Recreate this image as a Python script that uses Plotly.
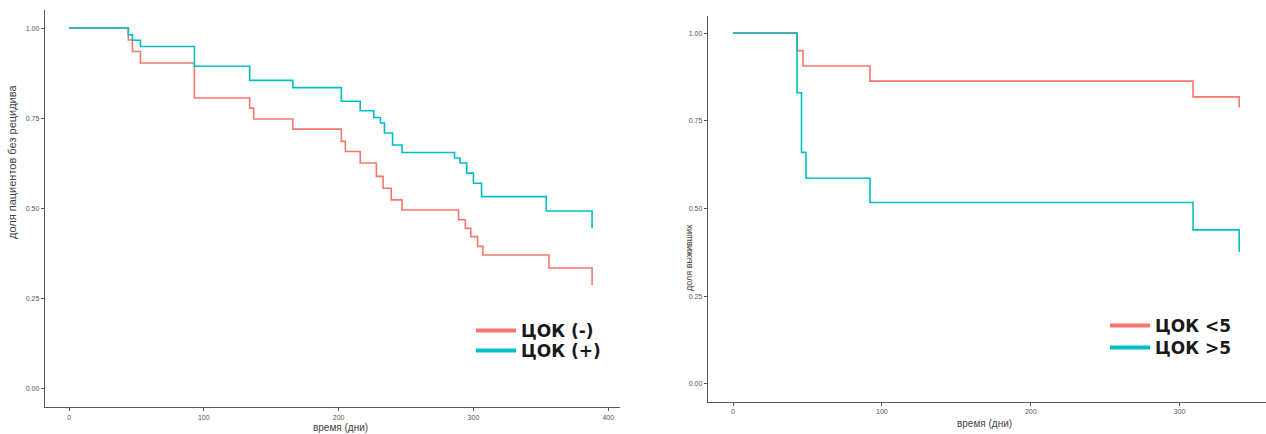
import plotly.graph_objects as go

# Kaplan-Meier estimates, left panel: relapse-free share by CTC status
t_neg = [0, 44, 47, 53, 93, 134, 137, 166, 202, 205, 216, 228, 233, 239, 247,
         289, 294, 298, 303, 307, 356, 388]
s_neg = [1.0, 0.967, 0.935, 0.903, 0.806, 0.778, 0.748, 0.720, 0.686, 0.658, 0.626,
         0.589, 0.556, 0.524, 0.496, 0.469, 0.445, 0.422, 0.395, 0.371, 0.335, 0.288]

t_pos = [0, 44, 47, 53, 93, 134, 166, 202, 216, 226, 231, 234, 240, 247,
         286, 290, 295, 300, 306, 354, 388]
s_pos = [1.0, 0.981, 0.966, 0.949, 0.894, 0.855, 0.835, 0.797, 0.771, 0.752, 0.737,
         0.709, 0.676, 0.655, 0.640, 0.626, 0.598, 0.570, 0.533, 0.493, 0.445]

# Right panel: survival share by CTC count
t_lt5 = [0, 43, 47, 92, 309, 340]
s_lt5 = [1.0, 0.950, 0.906, 0.863, 0.818, 0.788]

t_gt5 = [0, 43, 46, 49, 92, 309, 340]
s_gt5 = [1.0, 0.830, 0.660, 0.586, 0.517, 0.439, 0.377]

y_ticks = [0.0, 0.25, 0.5, 0.75, 1.0]
x_ticks_left = [0, 100, 200, 300, 400]
x_ticks_right = [0, 100, 200, 300]

RED = "#F8766D"
TEAL = "#00BFC4"
AXIS = "#5a5a5a"
W, H = 1266, 434

fig = go.Figure()

def km(x, y, color, xa, ya):
    fig.add_trace(go.Scatter(x=x, y=y, mode="lines", line=dict(color=color, width=1.6, shape="hv"),
                             xaxis=xa, yaxis=ya, showlegend=False, hoverinfo="skip"))

def key(name, color, legend):
    fig.add_trace(go.Scatter(x=[None], y=[None], mode="lines", name=name,
                             line=dict(color=color, width=4), legend=legend))

km(t_neg, s_neg, RED, "x", "y")
km(t_pos, s_pos, TEAL, "x", "y")
km(t_lt5, s_lt5, RED, "x2", "y2")
km(t_gt5, s_gt5, TEAL, "x2", "y2")

# one single-entry legend per key so each row sits exactly where wanted
key("ЦОК (-)", RED, "legend")
key("ЦОК (+)", TEAL, "legend2")
key("ЦОК <5", RED, "legend3")
key("ЦОК >5", TEAL, "legend4")

tickfont = dict(family="Liberation Sans, Arial", size=7, color="#555")
axis_common = dict(showline=True, linecolor=AXIS, linewidth=1.4, ticks="outside", ticklen=3,
                   tickcolor=AXIS, tickwidth=1, showgrid=False, zeroline=False,
                   tickfont=tickfont, fixedrange=True)


def legend_box(x_px, y_px, size):
    return dict(x=x_px / W, y=(H - y_px) / H, xanchor="left", yanchor="middle",
                bgcolor="rgba(0,0,0,0)", itemwidth=40,
                font=dict(family="DejaVu Sans", size=size, color="#1a1a1a", weight="bold"))


fig.update_layout(
    width=W, height=H, margin=dict(l=0, r=0, t=0, b=0),
    paper_bgcolor="white", plot_bgcolor="white",
    xaxis=dict(domain=[45 / W, 620 / W], range=[-17.8, 408.7], tickvals=x_ticks_left,
               anchor="y", **axis_common),
    yaxis=dict(domain=[(H - 407) / H, (H - 10) / H], range=[-0.05, 1.05], tickvals=y_ticks,
               tickformat=".2f", anchor="x", **axis_common),
    xaxis2=dict(domain=[708 / W, 1.0], range=[-16.8, 358], tickvals=x_ticks_right,
                anchor="y2", **axis_common),
    yaxis2=dict(domain=[(H - 401.5) / H, (H - 15.5) / H], range=[-0.05, 1.05], tickvals=y_ticks,
                tickformat=".2f", anchor="x2", **axis_common),
    legend=legend_box(471, 331, 17),
    legend2=legend_box(471, 351, 17),
    legend3=legend_box(1105, 326, 17),
    legend4=legend_box(1105, 348, 17),
)

annotations = [
    dict(text="доля пациентов без рецидива", x=12 / W, y=(H - 162) / H, textangle=-90, size=11),
    dict(text="время (дни)", x=340 / W, y=(H - 427) / H, textangle=0, size=10),
    dict(text="доля выживших", x=689 / W, y=(H - 258) / H, textangle=-90, size=9),
    dict(text="время (дни)", x=985 / W, y=(H - 423) / H, textangle=0, size=10),
]
for a in annotations:
    fig.add_annotation(xref="paper", yref="paper", showarrow=False,
                       font=dict(family="Liberation Sans, Arial", size=a["size"], color="#444"),
                       text=a["text"], x=a["x"], y=a["y"], textangle=a["textangle"],
                       xanchor="center", yanchor="middle")

fig.write_html("out.html")
